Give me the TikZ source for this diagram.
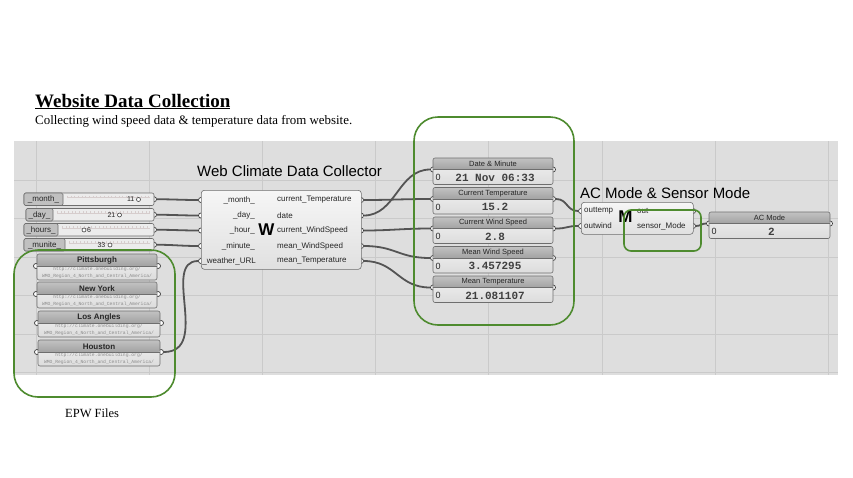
\documentclass[tikz,border=0pt]{standalone}
\usepackage{fontspec}
\setmainfont{Liberation Serif}
\setsansfont{Liberation Sans}
\setmonofont{Liberation Mono}
\usetikzlibrary{calc}
\pgfdeclarelayer{canvaslayer}
\pgfdeclarelayer{wirelayer}
\pgfsetlayers{canvaslayer,wirelayer,main}
\definecolor{canvas}{HTML}{DEDEDE}
\definecolor{gridc}{HTML}{CACACA}
\definecolor{wirec}{HTML}{545454}
\definecolor{grn}{HTML}{4E8B2F}
\definecolor{framec}{HTML}{6E6E6E}
\definecolor{gripc}{HTML}{3A3A3A}
\definecolor{comptop}{HTML}{F6F6F6}
\definecolor{compbot}{HTML}{E0E0E0}
\definecolor{headtop}{HTML}{C2C2C2}
\definecolor{headbot}{HTML}{A2A2A2}
\definecolor{bodytop}{HTML}{F2F2F2}
\definecolor{bodybot}{HTML}{DCDCDC}
\definecolor{slbody}{HTML}{ECECEC}
\definecolor{sllab}{HTML}{C0C0C0}
\definecolor{tickc}{HTML}{D6CDCD}
\definecolor{urlc}{HTML}{8C8C8C}

\newcommand{\ghslider}[5]{% name, x1, ytop, label end, label
  \node[gripnode] (#1-out) at (154,#3+6.25) {};
  \draw[framec, line width=0.6pt, rounded corners=2pt, fill=slbody] (#2,#3) rectangle (154,#3+12.5);
  \begin{scope}
    \clip (#4+4,#3) rectangle (150,#3+12.5);
    \draw[tickc, line width=0.4pt] (#4+4,#3+4.4) -- (150,#3+4.4);
    \foreach \t in {0,3.7,...,110} \draw[tickc, line width=0.4pt] (#4+4+\t,#3+2.6) -- ++(0,1.8);
  \end{scope}
  \draw[framec, line width=0.6pt, rounded corners=1.5pt, fill=sllab] (#2,#3) rectangle (#4,#3+12.5);
  \node[lbl] (#1) at ({(#2+#4)/2},#3+6.5) {#5};
}
\newcommand{\ghknob}[1]{\draw[gripc, line width=0.6pt, fill=white] (#1) circle[radius=2pt];}

\newcommand{\ghpanel}[6]{% name, x, ytop, width, title, value
  \node[gripnode] (#1-in) at (#2,#3+11.5) {};
  \node[gripnode] (#1-out) at (#2+#4,#3+11.5) {};
  \path[top color=bodytop, bottom color=bodybot, rounded corners=2pt] (#2,#3) rectangle (#2+#4,#3+26.5);
  \path[top color=headtop, bottom color=headbot, rounded corners=2pt] (#2,#3) rectangle (#2+#4,#3+11.5);
  \draw[framec, line width=0.6pt, rounded corners=2pt] (#2,#3) rectangle (#2+#4,#3+26.5);
  \draw[framec, line width=0.8pt] (#2,#3+11.5) -- (#2+#4,#3+11.5);
  \node[inner sep=0pt, minimum width=#4, minimum height=26.5, anchor=north west] (#1) at (#2,#3) {};
  \node[headtext] at ({#2+#4/2},#3+6) {#5};
  \node[zerotext, anchor=west] at (#2+2.5,#3+19.5) {0};
  \node[valtext] at ({#2+#4/2+2},#3+19.5) {#6};
}

\newcommand{\epwpanel}[5]{% name, x, ytop, width, title
  \node[gripnode] (#1-in) at (#2-1,#3+12) {};
  \node[gripnode] (#1-out) at (#2+#4+1,#3+12) {};
  \path[top color=bodytop, bottom color=bodybot, rounded corners=2pt] (#2,#3) rectangle (#2+#4,#3+26);
  \path[top color=headtop, bottom color=headbot, rounded corners=2pt] (#2,#3) rectangle (#2+#4,#3+12);
  \draw[framec, line width=0.6pt, rounded corners=2pt] (#2,#3) rectangle (#2+#4,#3+26);
  \draw[framec, line width=0.8pt] (#2,#3+12) -- (#2+#4,#3+12);
  \node[inner sep=0pt, minimum width=#4, minimum height=26, anchor=north west] (#1) at (#2,#3) {};
  \node[epwhead] at ({#2+#4/2},#3+6.3) {#5};
  \node[urltext] at ({#2+#4/2},#3+15.5) {http://climate.onebuilding.org/};
  \node[urltext] at ({#2+#4/2},#3+22.5) {WMO\_Region\_4\_North\_and\_Central\_America/};
}

\begin{document}
\begin{tikzpicture}[x=1pt,y=-1pt,
  wire/.style={draw=wirec, line width=1.8pt},
  gripnode/.style={circle, draw=gripc, line width=0.7pt, fill=white, inner sep=0pt, minimum size=5pt},
  grnbox/.style={draw=grn, line width=1.6pt},
  comp/.style={draw=framec, line width=0.6pt, rounded corners=3pt, top color=comptop, bottom color=compbot, inner sep=0pt, anchor=north west},
  lbl/.style={font=\sffamily\fontsize{8}{9}\selectfont, text=black!85, inner sep=0pt},
  headtext/.style={font=\sffamily\fontsize{7.5}{8}\selectfont, text=black!85, inner sep=0pt},
  zerotext/.style={font=\sffamily\fontsize{9}{10}\selectfont, text=black!85, inner sep=0pt},
  valtext/.style={font=\ttfamily\bfseries\fontsize{11}{12}\selectfont, text=black!75, inner sep=0pt},
  epwhead/.style={font=\sffamily\bfseries\fontsize{8}{9}\selectfont, text=black!85, inner sep=0pt},
  urltext/.style={font=\ttfamily\fontsize{4.7}{5}\selectfont, text=urlc, inner sep=0pt},
  slval/.style={font=\sffamily\fontsize{7}{8}\selectfont, text=black!85, inner sep=0pt},
  icon/.style={font=\sffamily\bfseries\fontsize{17}{17}\selectfont, inner sep=0pt}
]
\useasboundingbox (0,0) rectangle (853,477);
\begin{pgfonlayer}{canvaslayer}
  \fill[white] (0,0) rectangle (853,477);
  \fill[canvas] (14,141) rectangle (838,375);
  \foreach \x in {36,149.2,262.4,375.6,488.8,602,715.2,828.4}
    \draw[gridc, line width=0.9pt] (\x,141) -- (\x,375);
  \foreach \y in {180,218.5,257,295.5,334,372.5}
    \draw[gridc, line width=0.9pt] (14,\y) -- (838,\y);
\end{pgfonlayer}

% titles
\node[anchor=base west, inner sep=0pt, font=\bfseries\fontsize{19}{22}\selectfont] (title) at (35,107) {\underline{Website Data Collection}};
\node[anchor=base west, inner sep=0pt, font=\fontsize{12.9}{14}\selectfont] (subtitle) at (35,124) {Collecting wind speed data \& temperature data from website.};
\node[anchor=base west, inner sep=0pt, font=\fontsize{12.5}{14}\selectfont] (epwlabel) at (65,417) {EPW Files};
\node[anchor=base west, inner sep=0pt, font=\sffamily\fontsize{15}{17}\selectfont] (wtitle) at (197,176.5) {Web Climate Data Collector};
\node[anchor=base west, inner sep=0pt, font=\sffamily\fontsize{15}{17}\selectfont] (mtitle) at (580,198) {AC Mode \& Sensor Mode};

% sliders
\ghslider{s1}{24}{193}{63}{\_month\_}
\ghslider{s2}{26}{208.5}{53}{\_day\_}
\ghslider{s3}{24}{223.5}{58}{\_hours\_}
\ghslider{s4}{24}{238.5}{65}{\_munite\_}
\node[slval, anchor=east] (v1) at (134.5,199.5) {11};
\ghknob{138.5,199.5}
\node[slval, anchor=east] (v2) at (115.5,215) {21};
\ghknob{119.5,215}
\ghknob{84,230}
\node[slval, anchor=west] (v3) at (87,230) {6};
\node[slval, anchor=east] (v4) at (105.5,245) {33};
\ghknob{110,245}

% main component W
\foreach \i/\y in {1/200,2/215.5,3/230.5,4/246,5/261}{
  \node[gripnode] (W-i\i) at (201,\y) {};
  \node[gripnode] (W-o\i) at (361,\y) {};
}
\node[comp, minimum width=160, minimum height=79] (W) at (201,190) {};
\node[lbl, anchor=east] at (255,200) {\_month\_};
\node[lbl, anchor=east] at (255,215.5) {\_day\_};
\node[lbl, anchor=east] at (255,230.5) {\_hour\_};
\node[lbl, anchor=east] at (255,246) {\_minute\_};
\node[lbl, anchor=east] at (256,261) {\_weather\_URL};
\node[lbl, anchor=west] at (277,200) {current\_Temperature};
\node[lbl, anchor=west] at (277,215.5) {date};
\node[lbl, anchor=west] at (277,230.5) {current\_WindSpeed};
\node[lbl, anchor=west] at (277,246) {mean\_WindSpeed};
\node[lbl, anchor=west] at (277,261) {mean\_Temperature};
\node[icon] (Wicon) at (266.5,229.5) {W};

% value panels
\ghpanel{dm}{433}{158}{120}{Date \& Minute}{21 Nov 06:33}
\ghpanel{ct}{433}{187.5}{120}{Current Temperature}{15.2}
\ghpanel{cw}{433}{217}{120}{Current Wind Speed}{2.8}
\ghpanel{mw}{433}{246.5}{120}{Mean Wind Speed}{3.457295}
\ghpanel{mt}{433}{276}{120}{Mean Temperature}{21.081107}

% M component
\node[gripnode] (M-i1) at (581,211) {};
\node[gripnode] (M-i2) at (581,226) {};
\node[gripnode] (M-o1) at (693,211) {};
\node[gripnode] (M-o2) at (693,226) {};
\node[comp, minimum width=112, minimum height=32] (M) at (581,202) {};
\node[lbl, anchor=west] at (584,211) {outtemp};
\node[lbl, anchor=west] at (584,226) {outwind};
\node[lbl, anchor=west] at (637,211) {out};
\node[lbl, anchor=west] at (637,226) {sensor\_Mode};
\node[icon] (Micon) at (625.5,217) {M};

% AC Mode panel
\ghpanel{ac}{709}{212}{121}{AC Mode}{2}

% EPW panels
\epwpanel{pit}{37}{254}{120}{Pittsburgh}
\epwpanel{ny}{37}{282}{120}{New York}
\epwpanel{la}{38}{311}{122}{Los Angles}
\epwpanel{hou}{38}{340}{122}{Houston}

% wires
\begin{pgfonlayer}{wirelayer}
  \draw[wire] (s1-out) .. controls +(20,0) and +(-20,0) .. (W-i1);
  \draw[wire] (s2-out) .. controls +(20,0) and +(-20,0) .. (W-i2);
  \draw[wire] (s3-out) .. controls +(20,0) and +(-20,0) .. (W-i3);
  \draw[wire] (s4-out) .. controls +(20,0) and +(-20,0) .. (W-i4);
  \draw[wire] (hou-out) .. controls +(50,0) and +(-40,0) .. (W-i5);
  \draw[wire] (W-o1) .. controls +(30,0) and +(-30,0) .. (ct-in);
  \draw[wire] (W-o2) .. controls +(35,0) and +(-35,0) .. (dm-in);
  \draw[wire] (W-o3) .. controls +(30,0) and +(-30,0) .. (cw-in);
  \draw[wire] (W-o4) .. controls +(35,0) and +(-35,0) .. (mw-in);
  \draw[wire] (W-o5) .. controls +(35,0) and +(-35,0) .. (mt-in);
  \draw[wire] (ct-out) .. controls +(15,0) and +(-15,0) .. (M-i1);
  \draw[wire] (cw-out) .. controls +(15,0) and +(-15,0) .. (M-i2);
  \draw[wire] (M-o2) .. controls +(8,0) and +(-8,0) .. (ac-in);
\end{pgfonlayer}

% green highlight boxes
\draw[grnbox, rounded corners=24pt] (14,250) rectangle (175,397);
\draw[grnbox, rounded corners=24pt] (414,117) rectangle (574,325);
\draw[grnbox, rounded corners=7pt] (624,210) rectangle (701,251);
\end{tikzpicture}
\end{document}
